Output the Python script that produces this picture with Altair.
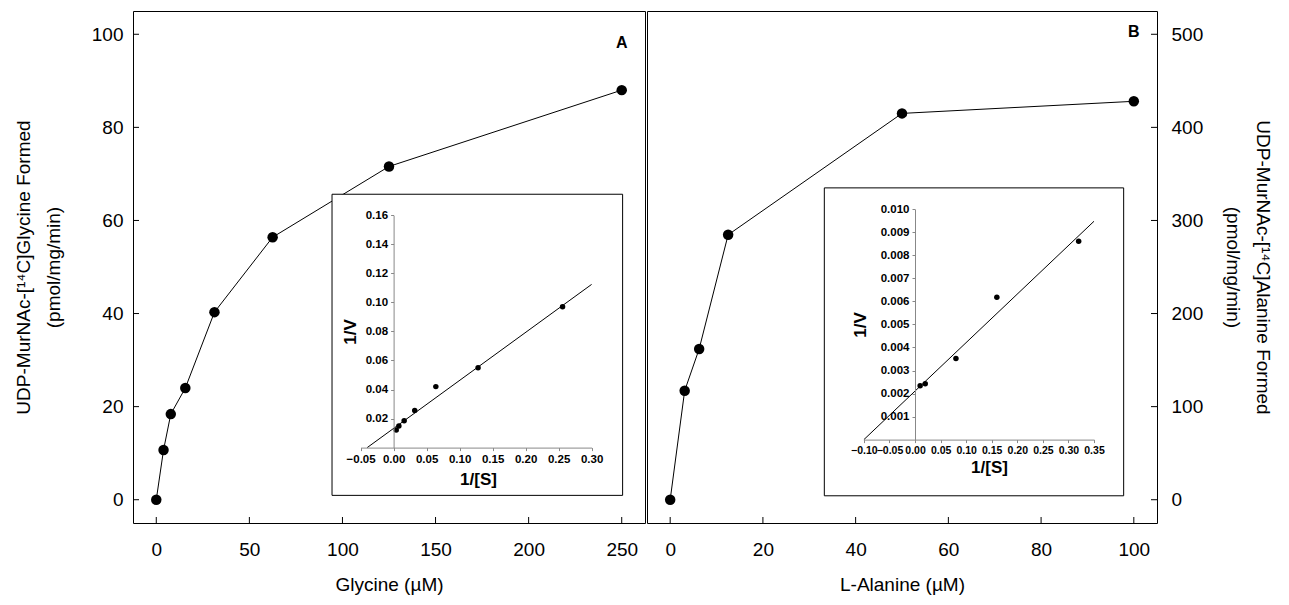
import altair as alt
import pandas as pd

# ---------------- data ----------------
# Panel A: glycine
gly_conc = [0, 3.9, 7.8, 15.6, 31.25, 62.5, 125, 250]
gly_rate = [0, 10.7, 18.4, 24.0, 40.3, 56.4, 71.6, 88.0]
# Inset A: Lineweaver-Burk
gly_inv_s = [0.004, 0.008, 0.016, 0.032, 0.064, 0.128, 0.256]
gly_inv_v = [0.0122, 0.0148, 0.0185, 0.0255, 0.042, 0.055, 0.097]
gly_fit_x = [-0.04, 0.30]
gly_fit_y = [0.0, 0.1124]

# Panel B: L-alanine
ala_conc = [0, 3.125, 6.25, 12.5, 50, 100]
ala_rate = [0, 117, 162, 284.6, 415, 428]
# Inset B
ala_inv_s = [0.01, 0.02, 0.08, 0.16, 0.32]
ala_inv_v = [0.00234, 0.00243, 0.00352, 0.00618, 0.00861]
ala_fit_x = [-0.10, 0.35]
ala_fit_y = [0.0, 0.00948]

# tick values
gly_xticks = [0, 50, 100, 150, 200, 250]
gly_yticks = [0, 20, 40, 60, 80, 100]
ala_xticks = [0, 20, 40, 60, 80, 100]
ala_yticks = [0, 100, 200, 300, 400, 500]
insA_xticks = [-0.05, 0.0, 0.05, 0.10, 0.15, 0.20, 0.25, 0.30]
insA_yticks = [0.02, 0.04, 0.06, 0.08, 0.10, 0.12, 0.14, 0.16]
insB_xticks = [-0.10, -0.05, 0.0, 0.05, 0.10, 0.15, 0.20, 0.25, 0.30, 0.35]
insB_yticks = [0.001, 0.002, 0.003, 0.004, 0.005, 0.006, 0.007, 0.008, 0.009, 0.010]

# inset frames in inset data units
insA_box = {"s": [-0.0933], "s2": [0.347], "v": [0.1745], "v2": [-0.0329]}
insB_box = {"s": [-0.1774], "s2": [0.408], "v": [0.01093], "v2": [-0.00244]}

panel_labels_A = {"conc": [250], "rate": [98.2], "label": ["A"]}
panel_labels_B = {"conc": [100], "rate": [502], "label": ["B"]}

FONT = "Liberation Sans"
W_A, W_B, H = 512, 510, 512
TICK_LEN = 6


def main_layer(conc, rate, labels, xdom, ydom, xticks, yticks, xtitle, ytitle,
               yorient, ylp, ytp, width):
    df = pd.DataFrame({"conc": conc, "rate": rate})
    x = alt.X("conc:Q",
              scale=alt.Scale(domain=xdom, nice=False, zero=False),
              axis=alt.Axis(values=xticks, title=xtitle, orient="bottom", domain=False,
                            ticks=False, labelPadding=17, titlePadding=16,
                            labelFontSize=19, titleFontSize=19, titleFontWeight="normal",
                            grid=False, labelOverlap=False, labelFlush=False))
    y = alt.Y("rate:Q",
              scale=alt.Scale(domain=ydom, nice=False, zero=False),
              axis=alt.Axis(values=yticks, title=ytitle, orient=yorient, domain=False,
                            ticks=False, labelPadding=ylp, titlePadding=ytp,
                            labelFontSize=19, titleFontSize=19, titleFontWeight="normal",
                            grid=False, titleLineHeight=30, labelOverlap=False))
    line = alt.Chart(df).mark_line(color="black", strokeWidth=1).encode(x=x, y=y)
    pts = alt.Chart(df).mark_point(filled=True, size=110, color="black", opacity=1).encode(x=x, y=y)
    txt = alt.Chart(pd.DataFrame(labels)).mark_text(
        font=FONT, fontSize=16, fontWeight="bold", color="black",
        align="center", baseline="middle").encode(
        x=alt.X("conc:Q"), y=alt.Y("rate:Q"), text="label:N")
    # inward tick marks
    xt = alt.Chart(pd.DataFrame({"conc": xticks})).mark_rule(
        color="black", strokeWidth=1).encode(
        x=alt.X("conc:Q"), y=alt.value(H), y2=alt.value(H - TICK_LEN))
    if yorient == "left":
        yt = alt.Chart(pd.DataFrame({"rate": yticks})).mark_rule(
            color="black", strokeWidth=1).encode(
            y=alt.Y("rate:Q"), x=alt.value(0), x2=alt.value(TICK_LEN))
    else:
        yt = alt.Chart(pd.DataFrame({"rate": yticks})).mark_rule(
            color="black", strokeWidth=1).encode(
            y=alt.Y("rate:Q"), x=alt.value(width), x2=alt.value(width - TICK_LEN))
    return alt.layer(line, pts, txt, xt, yt)


def inset_layer(s, v, fx, fy, box, xdom, ydom, xrange, yrange, xticks, yticks,
                xfmt, yfmt, xoff, yoff, ytp, xtp, xtitle_x, xlabel_size):
    df = pd.DataFrame({"s": s, "v": v})
    fit = pd.DataFrame({"s": fx, "v": fy})
    x = alt.X("s:Q",
              scale=alt.Scale(domain=xdom, range=xrange, nice=False, zero=False),
              axis=alt.Axis(values=xticks, format=xfmt, title="1/[S]", orient="bottom",
                            offset=xoff, tickSize=3, labelPadding=3, titlePadding=xtp,
                            titleX=xtitle_x,
                            labelFontSize=xlabel_size, labelFontWeight="bold",
                            titleFontSize=17, titleFontWeight="bold", zindex=2,
                            domain=True, grid=False, labelOverlap=False, labelFlush=False))
    y = alt.Y("v:Q",
              scale=alt.Scale(domain=ydom, range=yrange, nice=False, zero=False),
              axis=alt.Axis(values=yticks, format=yfmt, title="1/V", orient="left",
                            offset=yoff, tickSize=3, labelPadding=3, titlePadding=ytp,
                            labelFontSize=11.5, labelFontWeight="bold",
                            titleFontSize=17, titleFontWeight="bold", zindex=2,
                            domain=True, grid=False, labelOverlap=False, labelFlush=False))
    frame = alt.Chart(pd.DataFrame(box)).mark_rect(
        fill="white", stroke="black", strokeWidth=1).encode(
        x=alt.X("s:Q"), x2="s2:Q", y=alt.Y("v:Q"), y2="v2:Q")
    line = alt.Chart(fit).mark_line(color="black", strokeWidth=1).encode(x=x, y=y)
    pts = alt.Chart(df).mark_point(filled=True, size=30, color="black", opacity=1).encode(x=x, y=y)
    return alt.layer(frame, line, pts)


VIEW = alt.ViewBackground(stroke="black", strokeWidth=1)

mainA = main_layer(gly_conc, gly_rate, panel_labels_A, [-12.5, 262.5], [-5, 105],
                   gly_xticks, gly_yticks, "Glycine (µM)",
                   ["UDP-MurNAc-[¹⁴C]Glycine Formed", "(pmol/mg/min)"], "left", 10, 28, W_A)
insA = inset_layer(gly_inv_s, gly_inv_v, gly_fit_x, gly_fit_y, insA_box,
                   [-0.05, 0.30], [0, 0.16], [227.6, 458.6], [436.6, 204.3],
                   insA_xticks, insA_yticks, ".2f", ".2f", -75.4, -260.6, 6, 6, 345, 11.5)
panelA = alt.layer(mainA, insA).resolve_scale(x="independent", y="independent").properties(
    width=W_A, height=H, view=VIEW)

mainB = main_layer(ala_conc, ala_rate, panel_labels_B, [-5, 105], [-25, 525],
                   ala_xticks, ala_yticks, "L-Alanine (µM)",
                   ["UDP-MurNAc-[¹⁴C]Alanine Formed", "(pmol/mg/min)"], "right", 14, 20, W_B)
insB = inset_layer(ala_inv_s, ala_inv_v, ala_fit_x, ala_fit_y, insB_box,
                   [-0.10, 0.35], [0, 0.010], [216.9, 447.0], [428.6, 198.3],
                   insB_xticks, insB_yticks, ".2f", ".3f", -83.4, -268.0, 11, 3, 342, 10.5)
panelB = alt.layer(mainB, insB).resolve_scale(x="independent", y="independent").properties(
    width=W_B, height=H, view=VIEW)

chart = alt.hconcat(panelA, panelB, spacing=0).properties(
    padding={"left": 5, "top": 2, "right": 5, "bottom": 5}
).configure_view(
    stroke="black", strokeWidth=1
).configure_axis(
    labelFont=FONT, titleFont=FONT, labelColor="black", titleColor="black",
    tickColor="black", domainColor="black", titleFontWeight="normal"
).configure(background="white")

chart.save("out.html", embed_options={"renderer": "svg", "actions": False})
